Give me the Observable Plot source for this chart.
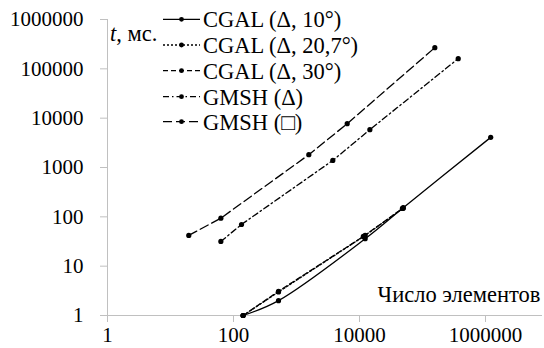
<!DOCTYPE html>
<html>
<head>
<meta charset="utf-8">
<script src="https://cdn.jsdelivr.net/npm/d3@7"></script>
<script src="https://cdn.jsdelivr.net/npm/@observablehq/plot@0.6"></script>
<style>
  html, body { margin: 0; padding: 0; background: #fff; }
  #chart svg { display: block; }
  #chart svg, #chart svg text, #chart svg tspan { font-family: "Liberation Serif", serif !important; }
</style>
</head>
<body>
<div id="chart"></div>
<script>
// ---- data ----
const seriesNames = ["CGAL (Δ, 10°)", "CGAL (Δ, 20,7°)", "CGAL (Δ, 30°)", "GMSH (Δ)", "GMSH (□)"];
const dashes = [null, "2,2", "5,3", "6,3,1.5,3", "9,4"];

const cgal10_x = [142, 518, 12300, 49500, 1210000];
const cgal10_y = [1, 2, 36, 153, 4080];
const cgal207_x = [142, 518, 12300, 49500];
const cgal207_y = [1, 3, 42, 150];
const cgal30_x = [142, 518, 11500, 48000];
const cgal30_y = [1, 3.1, 40, 148];
const gmshTri_x = [63, 134, 3770, 14600, 369000];
const gmshTri_y = [31.7, 70, 1390, 5850, 161000];
const gmshQuad_x = [19.5, 63, 1570, 6380, 157000];
const gmshQuad_y = [42, 94, 1820, 7730, 269000];

const xTicks = [1, 100, 10000, 1000000];
const yTicks = [1, 10, 100, 1000, 10000, 100000, 1000000];
const xLabel = "Число элементов";
const yLabel = ["t", ", мс."];

const xs = [cgal10_x, cgal207_x, cgal30_x, gmshTri_x, gmshQuad_x];
const ys = [cgal10_y, cgal207_y, cgal30_y, gmshTri_y, gmshQuad_y];
const data = seriesNames.map((name, i) => xs[i].map((x, j) => ({series: name, x, y: ys[i][j]})));

const fs = 21;     // tick labels
const fsL = 22.5;  // legend and axis titles

const marks = [
  Plot.ruleX([1], {stroke: "#c0c0c0", strokeWidth: 1}),
  Plot.ruleY([1], {stroke: "#c0c0c0", strokeWidth: 1}),
  Plot.axisX({ticks: xTicks, tickSize: 7, tickPadding: 5, tickFormat: d => String(d), fontSize: fs, label: null}),
  Plot.axisY({ticks: yTicks, tickSize: 7, tickPadding: 17, tickFormat: d => String(d), fontSize: fs, label: null}),
];
data.forEach((d, i) => {
  marks.push(Plot.line(d, {x: "x", y: "y", stroke: "#000", strokeWidth: 1.3, strokeDasharray: dashes[i] || undefined, curve: i === 0 ? "catmull-rom" : "linear"}));
  marks.push(Plot.dot(d, {x: "x", y: "y", r: 2.6, fill: "#000", stroke: "none"}));
});
marks.push(Plot.text([xLabel], {frameAnchor: "bottom-right", textAnchor: "end", dx: -2, dy: -14, fontSize: fsL, fill: "#000"}));

const chart = Plot.plot({
  width: 544,
  height: 348,
  marginLeft: 107,
  marginRight: 2,
  marginTop: 19,
  marginBottom: 33,
  style: {fontFamily: "Liberation Serif, serif", fontSize: fs + "px", color: "#000", background: "#fff"},
  x: {type: "log", domain: [1, 8.03e6], axis: null},
  y: {type: "log", domain: [1, 1000000], axis: null},
  marks
});
document.getElementById("chart").appendChild(chart);

const svg = d3.select(chart);
svg.attr("font-family", "Liberation Serif");
svg.selectAll('g[aria-label="x-axis tick"] path, g[aria-label="y-axis tick"] path').attr("stroke", "#c0c0c0");

// y-axis label
const yl = svg.append("text").attr("x", 110).attr("y", 33).attr("dy", "0.35em")
  .attr("text-anchor", "start").attr("font-size", fsL).attr("fill", "#000");
yl.append("tspan").attr("font-style", "italic").text(yLabel[0]);
yl.append("tspan").text(yLabel[1]);

// legend
const rowY = [19.3, 45, 70.7, 96.7, 121.7];
seriesNames.forEach((name, i) => {
  const g = svg.append("g");
  g.append("line").attr("x1", 163).attr("x2", 200).attr("y1", rowY[i]).attr("y2", rowY[i])
    .attr("stroke", "#000").attr("stroke-width", 1.3).attr("stroke-dasharray", dashes[i]);
  g.append("circle").attr("cx", 181.5).attr("cy", rowY[i]).attr("r", 2.4).attr("fill", "#000");
  g.append("text").attr("x", 203).attr("y", rowY[i]).attr("dy", "0.35em").attr("text-anchor", "start")
    .attr("font-size", fsL).attr("fill", "#000").text(name);
});
svg.selectAll("text").attr("font-family", "Liberation Serif").style("font-family", "'Liberation Serif', serif");
</script>
</body>
</html>
